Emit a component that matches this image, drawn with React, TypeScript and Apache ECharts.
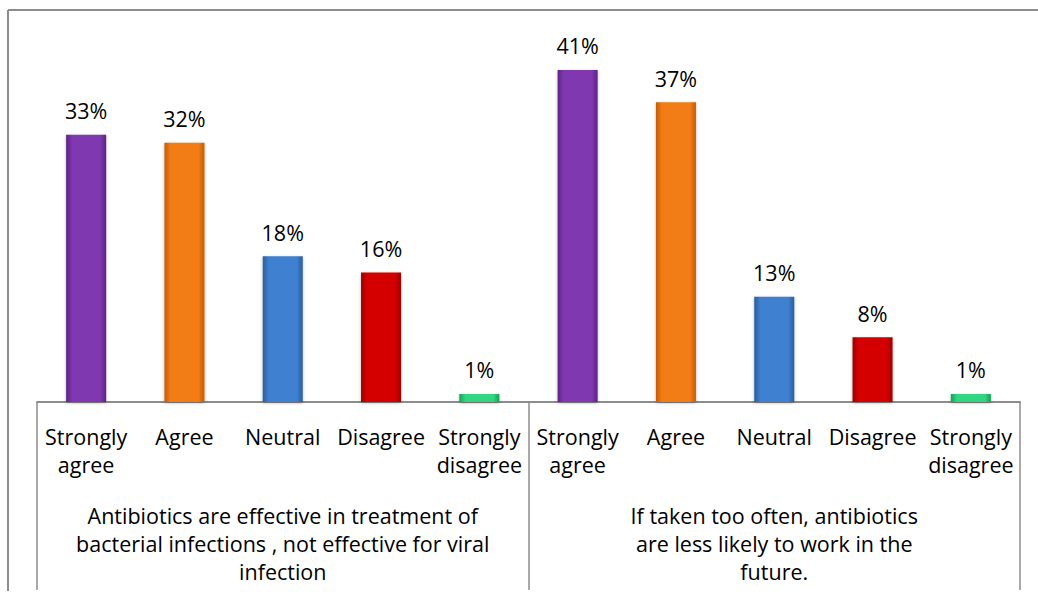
import React, { useEffect, useRef } from "react";
import * as echarts from "echarts";

// Response categories (repeated for each statement)
const responses = ["Strongly\nagree", "Agree", "Neutral", "Disagree", "Strongly\ndisagree"];

// Statements shown beneath each group of bars
const statements = [
  "Antibiotics are effective in treatment of\nbacterial infections , not effective for viral\ninfection",
  "If taken too often, antibiotics\nare less likely to work in the\nfuture.",
];

// Percent of respondents per response
const effectiveValues = [33, 32, 18, 16, 1];
const overuseValues = [41, 37, 13, 8, 1];

// Bar colours: [edge, centre] per response
const barColors: [string, string][] = [
  ["#5c2382", "#8038b0"],
  ["#c45c06", "#f27c14"],
  ["#2a5d9c", "#3f80d0"],
  ["#9c0000", "#d40606"],
  ["#17a055", "#32d680"],
];

const FONT = "'Open Sans', sans-serif";
const GRAY = "#8c8c8c";
const FONT_SIZE = 21.5;

export default function App() {
  const ref = useRef<HTMLDivElement>(null);

  useEffect(() => {
    if (!ref.current) return;
    const chart = echarts.init(ref.current, null, { renderer: "svg" });

    const allValues = [...effectiveValues, ...overuseValues];
    const catIds = allValues.map((_, i) => "c" + i);
    const barData = allValues.map((v, i) => {
      const [edge, mid] = barColors[i % responses.length];
      return {
        value: v,
        itemStyle: {
          color: new echarts.graphic.LinearGradient(0, 0, 1, 0, [
            { offset: 0, color: edge },
            { offset: 0.15, color: mid },
            { offset: 0.85, color: mid },
            { offset: 1, color: edge },
          ]),
          shadowBlur: 3,
          shadowColor: "rgba(0,0,0,0.3)",
          shadowOffsetY: 1,
        },
      };
    });

    chart.setOption({
      animation: false,
      textStyle: { fontFamily: FONT },
      grid: { left: 37, right: 18, top: 37.5, bottom: 195, containLabel: false },
      graphic: [
        {
          type: "line",
          shape: { x1: 8, y1: 10, x2: 1038, y2: 10 },
          style: { stroke: GRAY, lineWidth: 2 },
        },
        {
          type: "line",
          shape: { x1: 8, y1: 10, x2: 8, y2: 591 },
          style: { stroke: GRAY, lineWidth: 2 },
        },
      ],
      xAxis: [
        {
          type: "category",
          data: catIds,
          position: "bottom",
          axisLine: { show: true, lineStyle: { color: GRAY, width: 2 } },
          axisTick: { show: false },
          axisLabel: {
            interval: 0,
            margin: 20,
            fontSize: FONT_SIZE,
            lineHeight: 28,
            color: "#000",
            fontFamily: FONT,
            formatter: (_v: string, i: number) => responses[i % responses.length],
          },
        },
        {
          type: "category",
          data: ["s0", "s1"],
          position: "bottom",
          axisLine: { show: false },
          axisTick: { show: true, length: 188, lineStyle: { color: GRAY, width: 1.5 } },
          axisLabel: {
            interval: 0,
            margin: 99,
            fontSize: FONT_SIZE,
            lineHeight: 28,
            color: "#000",
            fontFamily: FONT,
            align: "center",
            formatter: (_v: string, i: number) => statements[i],
          },
        },
      ],
      yAxis: {
        type: "value",
        min: 0,
        max: 45,
        show: false,
      },
      series: [
        {
          type: "bar",
          xAxisIndex: 0,
          barWidth: 40,
          data: barData,
          label: {
            show: true,
            position: "top",
            distance: 13,
            formatter: "{c}%",
            fontSize: FONT_SIZE,
            color: "#000",
            fontFamily: FONT,
          },
        },
      ],
    });

    return () => chart.dispose();
  }, []);

  return (
    <div
      ref={ref}
      style={{ position: "fixed", left: 0, top: 0, width: 1038, height: 597, background: "#fff" }}
    />
  );
}
